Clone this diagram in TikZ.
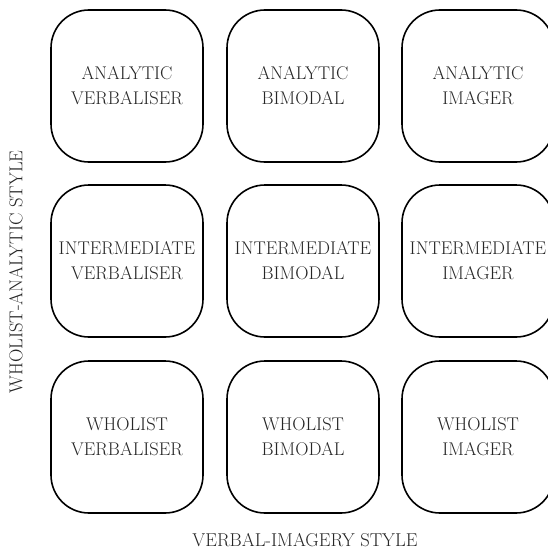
\documentclass[tikz,border=0pt]{standalone}
\usepackage{tikz}
\usetikzlibrary{positioning}

\tikzset{
  stylebox/.style={draw, line width=1.6pt, rounded corners=38pt,
    minimum width=152pt, minimum height=152pt, align=center,
    text=black!85, font=\fontsize{18.4}{25}\selectfont},
  axislabel/.style={text=black!85, font=\fontsize{18.6}{20}\selectfont}
}

\begin{document}
\begin{tikzpicture}[x=1pt,y=-1pt]
\useasboundingbox (0,0) rectangle (548,551);
\node[stylebox] (av) at (127,86) {ANALYTIC\\VERBALISER};
\node[stylebox] (ab) at (303,86) {ANALYTIC\\BIMODAL};
\node[stylebox] (ai) at (478,86) {ANALYTIC\\IMAGER};
\node[stylebox] (iv) at (127,261) {INTERMEDIATE\\VERBALISER};
\node[stylebox] (ib) at (303,261) {INTERMEDIATE\\BIMODAL};
\node[stylebox] (ii) at (478,261) {INTERMEDIATE\\IMAGER};
\node[stylebox] (wv) at (127,437) {WHOLIST\\VERBALISER};
\node[stylebox] (wb) at (303,437) {WHOLIST\\BIMODAL};
\node[stylebox] (wi) at (478,437) {WHOLIST\\IMAGER};
\node[axislabel, rotate=90] (wa) at (16,272) {WHOLIST-ANALYTIC STYLE};
\node[axislabel] (vi) at (305,540) {VERBAL-IMAGERY STYLE};
\end{tikzpicture}
\end{document}
